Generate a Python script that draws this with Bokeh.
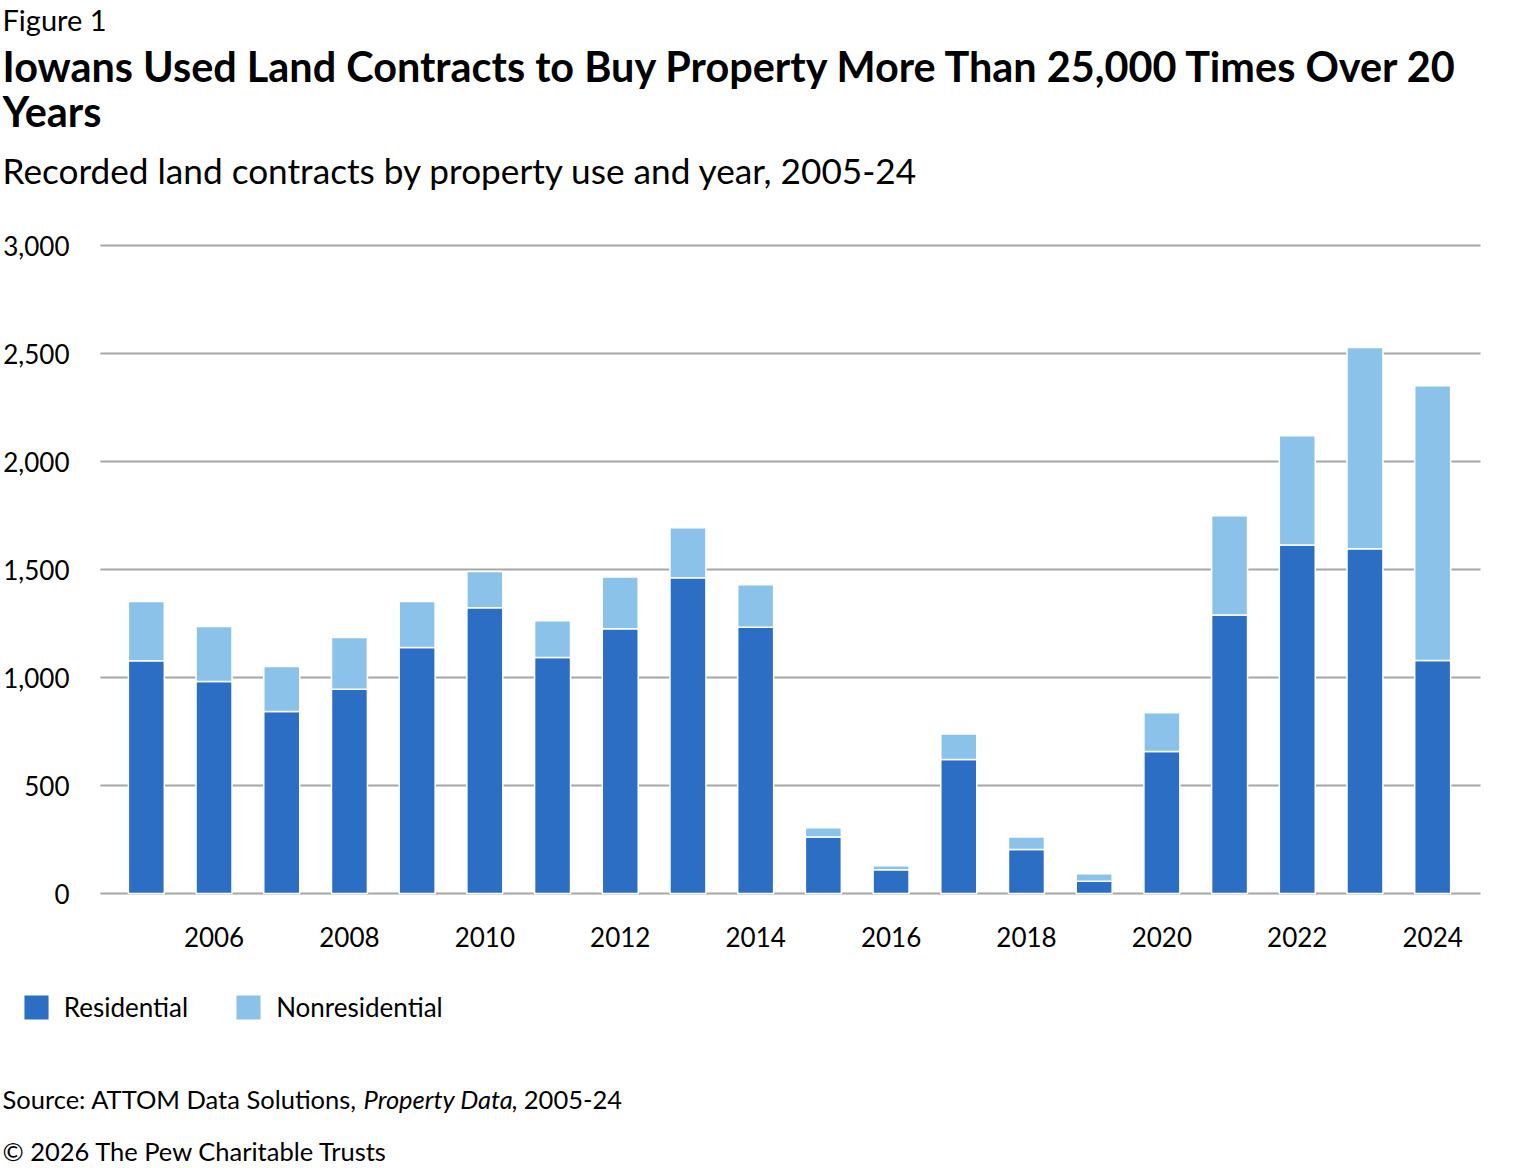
from bokeh.plotting import figure
from bokeh.models import (ColumnDataSource, Label, Legend, LegendItem, FixedTicker,
                          NumeralTickFormatter, Range1d)
from bokeh.embed import file_html
from bokeh.resources import INLINE

years = list(range(2005, 2025))
residential = [1077, 982, 843, 946, 1139, 1323, 1093, 1226, 1462, 1233,
               262, 110, 620, 204, 57, 657, 1289, 1613, 1596, 1079]
nonresidential = [275, 254, 208, 239, 213, 168, 170, 239, 231, 196,
                  42, 18, 119, 58, 34, 180, 460, 506, 932, 1272]
series_names = ["Residential", "Nonresidential"]
series_colors = ["#2B6EC3", "#8BC2E9"]
x_ticks = [2006, 2008, 2010, 2012, 2014, 2016, 2018, 2020, 2022, 2024]
y_ticks = [0, 500, 1000, 1500, 2000, 2500, 3000]

FONT = "Lato"
W, H = 1520, 1168

# plot-area geometry (canvas px) -> data ranges over the whole canvas
AREA_L, AREA_R = 98, 1480
X_AREA = (2004.321, 2024.707)
Y0_PX, Y3000_PX = 893, 245
ppx = (AREA_R - AREA_L) / (X_AREA[1] - X_AREA[0])
ppy = (Y0_PX - Y3000_PX) / 3000.0
x_range = Range1d(X_AREA[0] - AREA_L / ppx, X_AREA[1] + (W - AREA_R) / ppx)
y_range = Range1d(0 - (H - Y0_PX) / ppy, 3000 + Y3000_PX / ppy)

source = ColumnDataSource(dict(year=years, Residential=residential, Nonresidential=nonresidential))
grid_src = ColumnDataSource(dict(y=y_ticks))

p = figure(width=W, height=H, output_backend="svg", toolbar_location=None,
           x_range=x_range, y_range=y_range, min_border=0)
p.outline_line_color = None
p.background_fill_color = "white"
p.border_fill_color = "white"
p.xgrid.visible = False
p.ygrid.visible = False

# horizontal grid lines, limited to the plot area
p.segment(x0=X_AREA[0], x1=X_AREA[1], y0="y", y1="y", source=grid_src,
          line_color="#a6a6a6", line_width=2)

renderers = p.vbar_stack(series_names, x="year", width=0.531, source=source,
                         fill_color=series_colors, line_color="white", line_width=1.5)

for ax in (p.xaxis[0], p.yaxis[0]):
    ax.axis_line_color = None
    ax.major_tick_line_color = None
    ax.minor_tick_line_color = None
    ax.major_tick_out = 0
    ax.major_tick_in = 0
    ax.major_label_text_font = FONT
    ax.major_label_text_font_size = "26px"
    ax.major_label_text_color = "#000000"

p.xaxis[0].ticker = FixedTicker(ticks=x_ticks)
p.xaxis[0].major_label_standoff = -(H - 926)      # labels sit just under the zero line
p.yaxis[0].ticker = FixedTicker(ticks=y_ticks)
p.yaxis[0].formatter = NumeralTickFormatter(format="0,0")
p.yaxis[0].major_label_standoff = -67             # labels end near x = 67

DESCENT = 0.213  # Lato descent (em)


def add_label(text, x, baseline, size, style="normal"):
    # anchor the bottom of the text box; the baseline sits one descent above it
    p.add_layout(Label(x=x, y=H - (baseline + DESCENT * size), x_units="screen", y_units="screen",
                       text=text, text_font=FONT, text_font_size=f"{size}px",
                       text_font_style=style, text_color="#000000",
                       text_baseline="bottom", text_align="left"))


add_label("Figure 1", 0, 30, 29)
add_label("Iowans Used Land Contracts to Buy Property More Than 25,000 Times Over 20", 0, 82, 41.4, "bold")
add_label("Years", 0, 127, 41.4, "bold")
add_label("Recorded land contracts by property use and year, 2005-24", 0, 183, 35.2)

add_label("Source: ATTOM Data Solutions,", 0, 1108, 25.5)
add_label("Property Data", 361, 1108, 25.5, "italic")
add_label(", 2005-24", 509, 1108, 25.5)
add_label("\u00a9 2026 The Pew Charitable Trusts", 0, 1160, 25.5)

# legend: area glyphs are drawn 10% inset, so a 32px glyph box gives a ~26px swatch
GLYPH = 32
sw_left, sw_top = 21, 994
leg_x = sw_left - GLYPH * 0.1
leg_top = sw_top - GLYPH * 0.1
legend = Legend(items=[LegendItem(label=n, renderers=[r]) for n, r in zip(series_names, renderers)],
                orientation="horizontal", location=(leg_x, H - (leg_top + GLYPH)),
                glyph_width=GLYPH, glyph_height=GLYPH, label_standoff=12, spacing=44,
                label_height=GLYPH, padding=0, margin=0, border_line_color=None,
                background_fill_alpha=0, label_text_font=FONT, label_text_font_size="26px",
                label_text_color="#000000")
p.add_layout(legend, "center")

open("out.html", "w").write(file_html(p, INLINE))
